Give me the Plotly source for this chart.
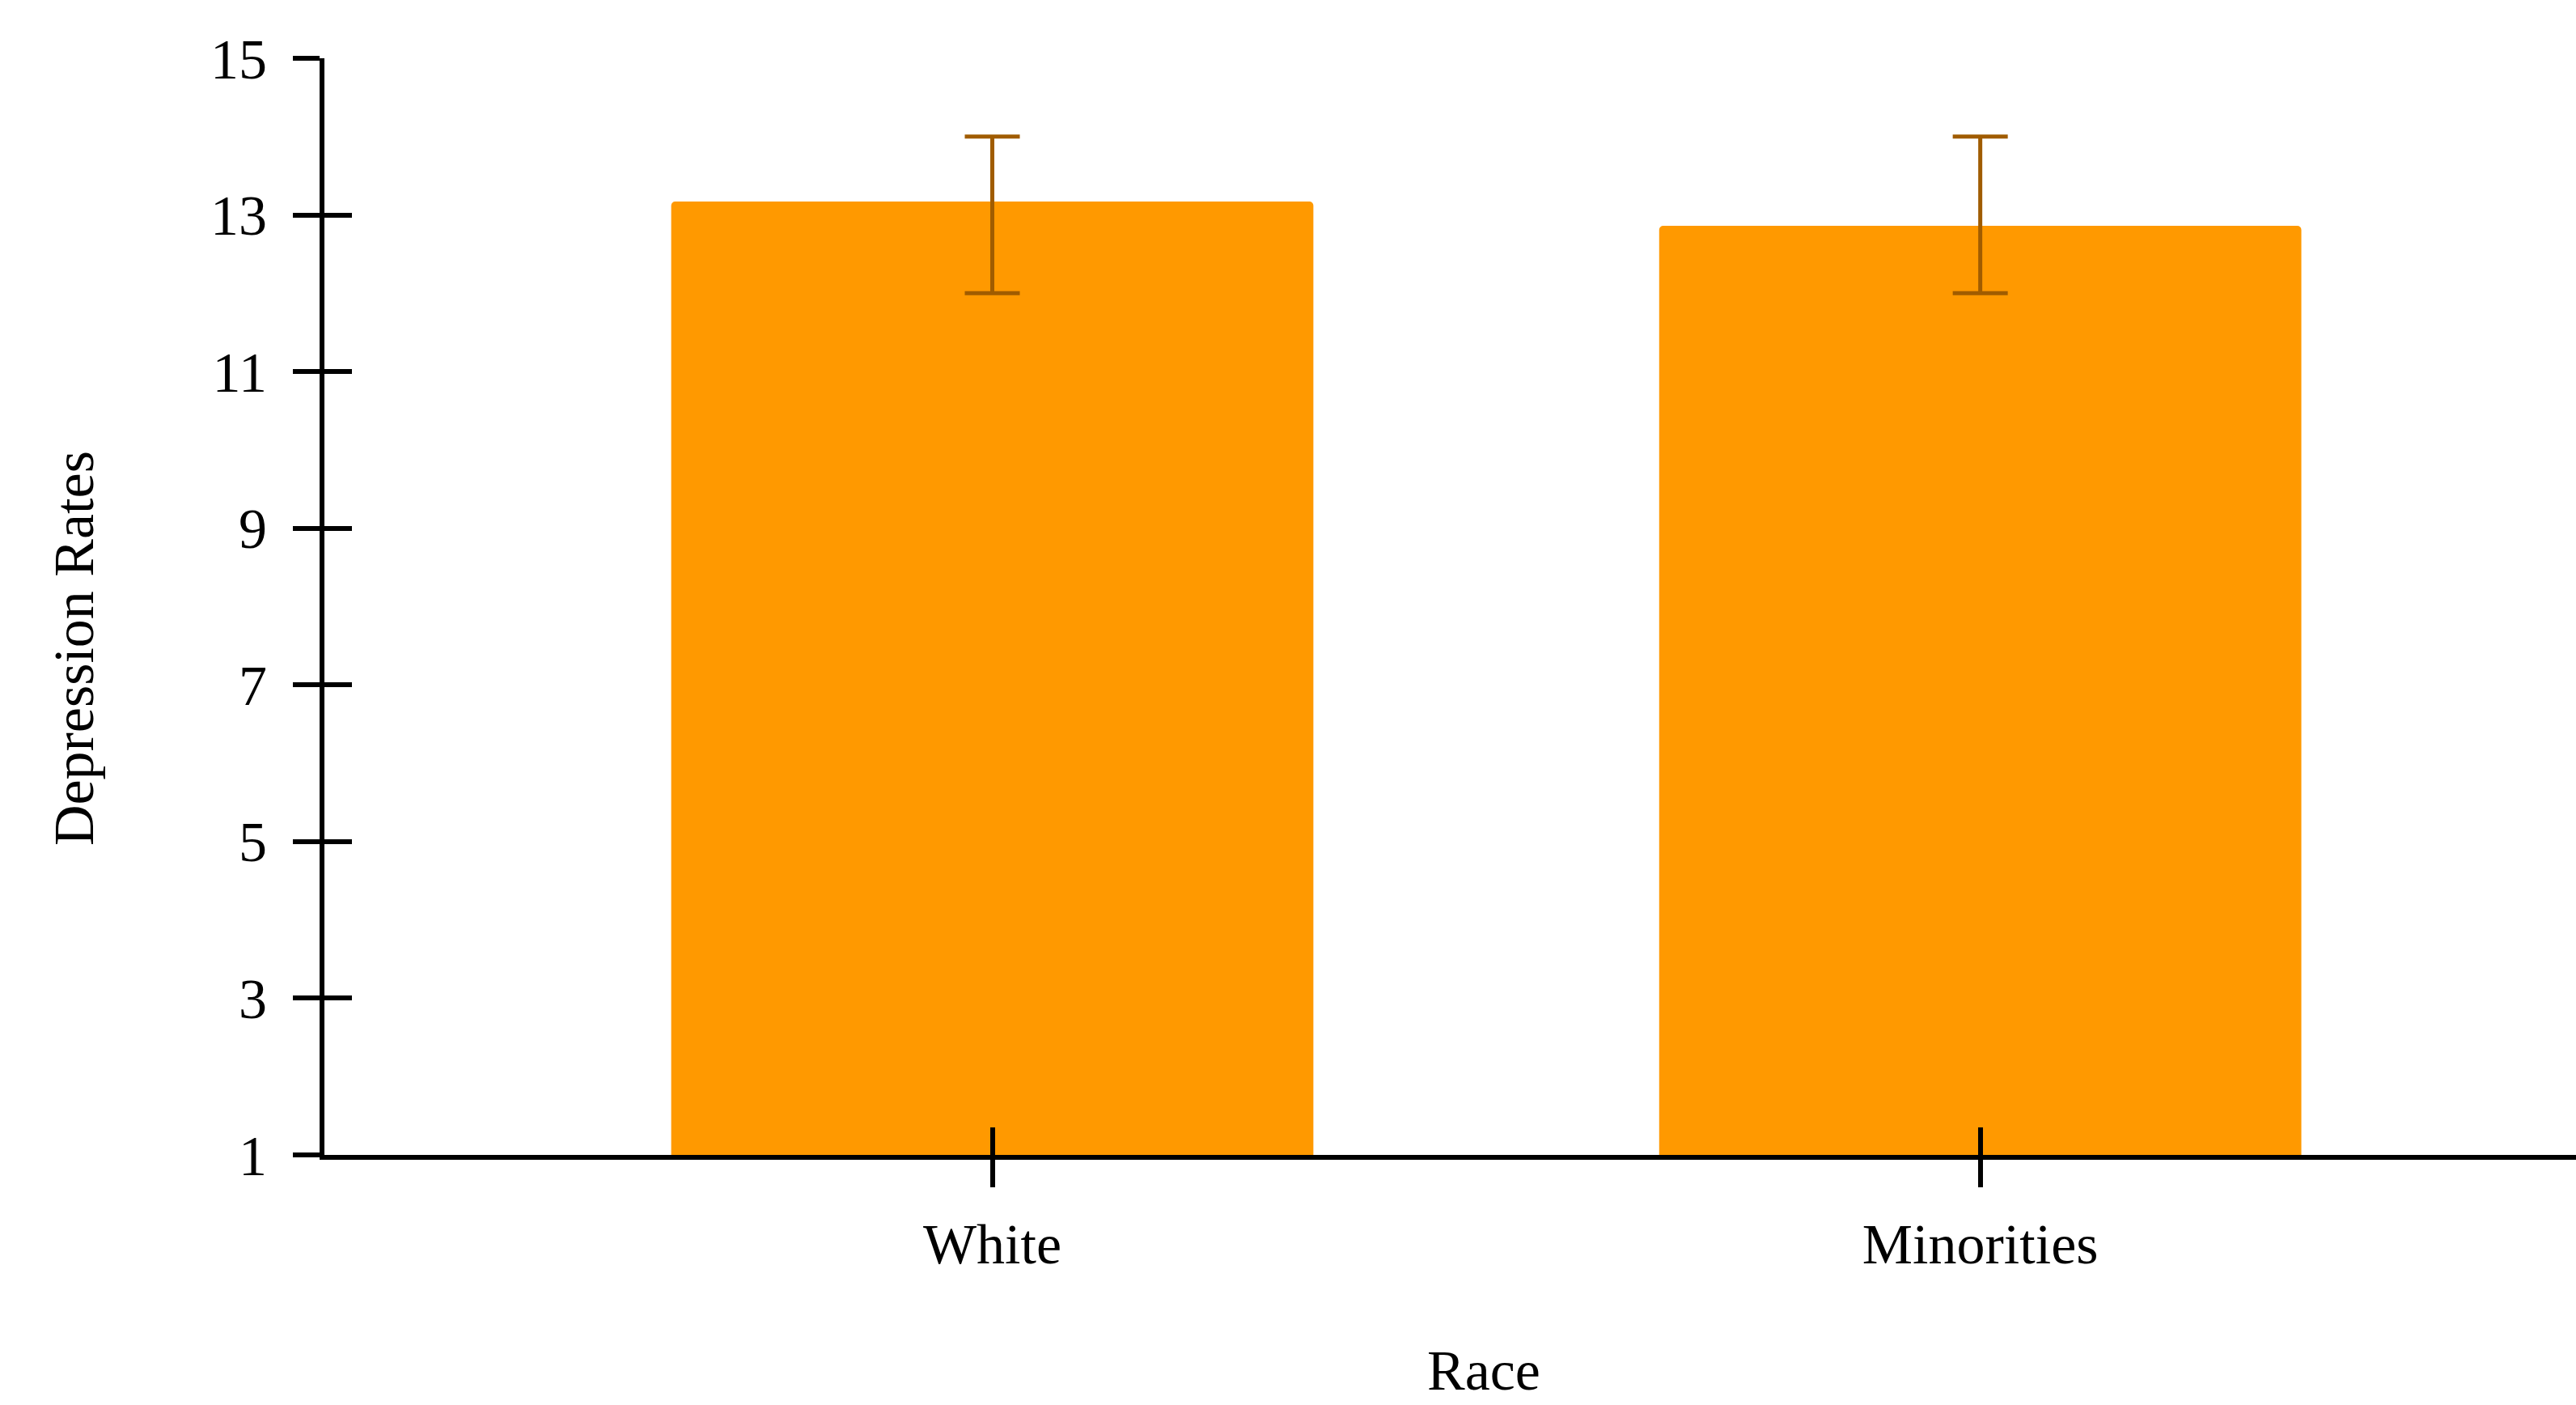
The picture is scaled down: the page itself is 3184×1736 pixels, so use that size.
import plotly.graph_objects as go

categories = ["White", "Minorities"]
values = [13.17, 12.86]
err_high = [14.0, 14.0]
err_low = [12.0, 12.0]
y_ticks = [1, 3, 5, 7, 9, 11, 13, 15]
x_title = "Race"
y_title = "Depression Rates"

W, H = 3184, 1736
ML, MR, MT, MB = 401, 0, 72, 309
FONT = "Liberation Serif, Times New Roman, serif"
BAR_COLOR = "#FF9900"
ERR_COLOR = "#A05C00"
FS = 70

xpos = list(range(len(categories)))
xrange_ = [-0.676, 1.603]
yrange_ = [1, 15]

fig = go.Figure()
fig.add_trace(go.Bar(
    x=xpos, y=values, width=0.65,
    marker=dict(color=BAR_COLOR, line=dict(width=0), cornerradius=5),
    error_y=dict(type="data", symmetric=False,
                 array=[h - v for h, v in zip(err_high, values)],
                 arrayminus=[v - l for v, l in zip(values, err_low)],
                 color=ERR_COLOR, thickness=5, width=34),
    base=0, showlegend=False,
))
# invisible trace on overlay axes so they get drawn
fig.add_trace(go.Scatter(x=[xpos[0]], y=[values[0]], xaxis="x2", yaxis="y2",
                         mode="markers", marker=dict(opacity=0), showlegend=False,
                         hoverinfo="skip"))

axis_common = dict(showgrid=False, zeroline=False, tickcolor="black", tickwidth=6)
fig.update_layout(
    width=W, height=H,
    margin=dict(l=ML, r=MR, t=MT, b=MB, pad=0),
    paper_bgcolor="white", plot_bgcolor="white",
    font=dict(family=FONT, color="black", size=FS),
    xaxis=dict(range=xrange_, tickvals=xpos, ticktext=categories,
               showline=True, linecolor="black", linewidth=6,
               ticks="outside", ticklen=34, ticklabelstandoff=10,
               tickfont=dict(size=FS, family=FONT, color="black"), **axis_common),
    yaxis=dict(range=yrange_, tickvals=y_ticks,
               showline=True, linecolor="black", linewidth=6,
               ticks="outside", ticklen=33, ticklabelstandoff=18,
               tickfont=dict(size=FS, family=FONT, color="black"), **axis_common),
    xaxis2=dict(range=xrange_, tickvals=xpos, overlaying="x", anchor="y2", side="bottom",
                showline=False, ticks="inside", ticklen=34, showticklabels=False,
                **axis_common),
    yaxis2=dict(range=yrange_, tickvals=y_ticks, overlaying="y", anchor="x2", side="left",
                showline=False, ticks="inside", ticklen=34, showticklabels=False,
                **axis_common),
    annotations=[
        dict(text=x_title, xref="paper", yref="paper", x=0.5149, y=-0.197,
             xanchor="center", yanchor="middle", showarrow=False,
             font=dict(size=FS, family=FONT, color="black")),
        dict(text=y_title, xref="paper", yref="paper", x=-0.111, y=0.462,
             xanchor="center", yanchor="middle", textangle=-90, showarrow=False,
             font=dict(size=FS, family=FONT, color="black")),
    ],
)

fig.write_html("out.html", config={"displayModeBar": False},
               post_script="document.body.style.margin='0px';")
